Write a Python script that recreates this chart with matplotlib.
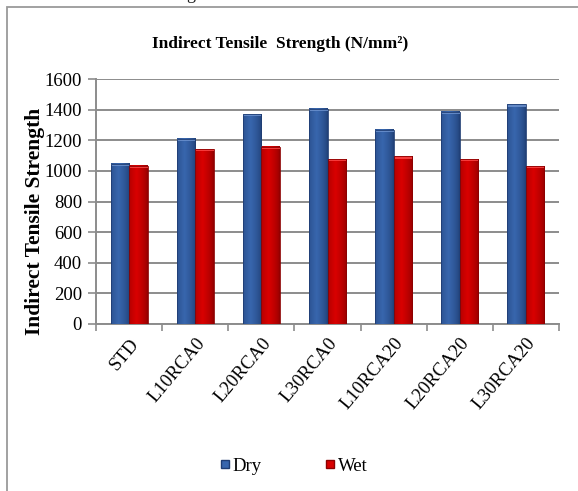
import matplotlib
matplotlib.use("Agg")
import matplotlib.pyplot as plt
import numpy as np
from matplotlib.patches import Rectangle
from matplotlib.lines import Line2D

# Indirect tensile strength results per mix
categories = ["STD", "L10RCA0", "L20RCA0", "L30RCA0", "L10RCA20", "L20RCA20", "L30RCA20"]
dry = [1048, 1211, 1370, 1405, 1268, 1386, 1434]
wet = [1033, 1142, 1159, 1076, 1094, 1076, 1031]
series_names = ["Dry", "Wet"]
yticks = [0, 200, 400, 600, 800, 1000, 1200, 1400, 1600]

plt.rcParams["font.family"] = ["Liberation Serif", "DejaVu Serif"]

fig = plt.figure(figsize=(5.78, 4.91), dpi=100)
fig.patch.set_facecolor("white")

# outer frame (runs off the right and bottom edges)
fig.add_artist(Rectangle((7 / 578, -0.05), 1.2, 1 - 7 / 491 + 0.05,
                         transform=fig.transFigure, fill=False,
                         edgecolor="#9a9a9a", linewidth=1.3, zorder=0))
# caption descender peeking in at the top
fig.text(0.33, 1.012, "g", fontsize=13, ha="center", va="center", color="#222222")

ax = fig.add_axes([96 / 578, 1 - 324 / 491, (559 - 96) / 578, (324 - 79) / 491])

x = np.arange(len(categories))
w = 0.28


def shaded_bars(xs, vals, base, dark, light):
    for xi, v in zip(xs, vals):
        # horizontal shading to give each bar a rounded look
        t = np.linspace(0, 1, 64)
        prof = 1 - np.abs(t - 0.4) / 0.6
        prof = np.clip(prof, 0, 1) ** 0.6
        cols = np.array([np.array(dark) * (1 - p) + np.array(base) * p for p in prof])
        img = cols[np.newaxis, :, :]
        ax.imshow(img, extent=[xi - w / 2, xi + w / 2, 0, v], aspect="auto",
                  zorder=3, interpolation="bilinear")
        # light cap at top
        ax.add_patch(Rectangle((xi - w / 2, v - 14), w, 14, facecolor=light,
                               edgecolor="none", zorder=4, alpha=0.8))
        ax.add_patch(Rectangle((xi - w / 2, 0), w, v, fill=False,
                               edgecolor=dark, linewidth=0.6, zorder=5))


blue = (0.22, 0.40, 0.68)
blue_dark = (0.12, 0.24, 0.45)
red = (0.85, 0.0, 0.0)
red_dark = (0.55, 0.0, 0.0)
shaded_bars(x - w / 2, dry, blue, blue_dark, "#6f94d0")
shaded_bars(x + w / 2, wet, red, red_dark, "#ff4a4a")

ax.set_xlim(-0.5, len(categories) - 0.5)
ax.set_ylim(0, 1600)
ax.set_yticks(yticks)
ax.set_yticklabels([str(v) for v in yticks], fontsize=13.5)
ax.yaxis.grid(True, color="#8c8c8c", linewidth=1.4, zorder=1)
ax.set_axisbelow(True)

ax.set_xticks(x)
ax.set_xticklabels(categories, rotation=50, ha="right", rotation_mode="anchor", fontsize=13.5)
ax.tick_params(axis="x", length=0, pad=8)
ax.set_xticks(np.arange(-0.5, len(categories), 1.0), minor=True)
ax.tick_params(axis="x", which="minor", length=5, color="#8c8c8c", width=1.2)
ax.tick_params(axis="y", length=6, color="#8c8c8c", width=1.2, pad=4)

for s in ["top", "right"]:
    ax.spines[s].set_visible(False)
for s in ["left", "bottom"]:
    ax.spines[s].set_color("#8c8c8c")
    ax.spines[s].set_linewidth(1.4)

ax.set_ylabel("Indirect Tensile Strength", fontsize=15.5, fontweight="bold")
ax.yaxis.set_label_coords(-0.11, 0.42)
fig.text(0.484, 1 - 44 / 491, "Indirect Tensile  Strength (N/mm\u00b2)", fontsize=12.5,
         fontweight="bold", ha="center", va="center")

handles = [Line2D([], [], marker="s", linestyle="none", markersize=5.5,
                  markerfacecolor=blue, markeredgecolor=blue_dark),
           Line2D([], [], marker="s", linestyle="none", markersize=5.5,
                  markerfacecolor=red, markeredgecolor=red_dark)]
fig.legend(handles, series_names, loc="center", bbox_to_anchor=(0.509, 1 - 466 / 491),
           ncol=2, frameon=False, fontsize=13.5, handlelength=0.5, handletextpad=0.15,
           columnspacing=3.4)

fig.savefig("out.png", dpi=100)
